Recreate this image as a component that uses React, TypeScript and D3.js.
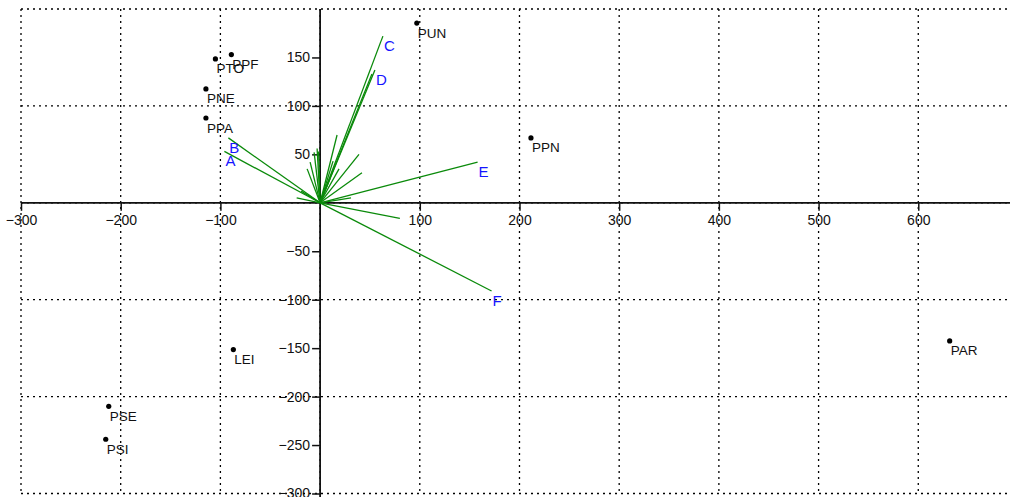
import React, { useEffect, useRef } from 'react';
import * as d3 from 'd3';

// sample scores (black dots)
const siteNames = ['PUN', 'PPF', 'PTO', 'PNE', 'PPA', 'PPN', 'PAR', 'LEI', 'PSE', 'PSI'];
const siteX = [97, -89, -105, -114.5, -114.5, 211.5, 631.5, -87, -212, -215];
const siteY = [185.5, 153, 148.5, 117.5, 87.5, 67, -142.5, -151.5, -210, -244];

// variable loadings (green arrows), '' = no label
const varNames = ['A', 'B', 'C', 'D', '', 'E', 'F', '', '', '', '', '', '', '', '', '', '', '', '', '', '', ''];
const varX = [-96, -92, 63, 55, 52, 158, 172, -23.5, -19, -13, -10, -6, -3, -1.5, 17, 19, 13, 39, 42, 31, 80, 10];
const varY = [53, 67, 172, 137, 133, 42, -91, 5, 12, 35, 42, 52, 56, 53, 70, 35, 43, 50, 31, 5, -16, 25];

const xTicks = [-300, -200, -100, 100, 200, 300, 400, 500, 600];
const yTicks = [150, 100, 50, -50, -100, -150, -200, -250, -300];
const xGrid = [-300, -200, -100, 0, 100, 200, 300, 400, 500, 600];
const yGrid = [200, 100, 0, -100, -200, -300];

const W = 1010, H = 497;

export default function App() {
  const ref = useRef<SVGSVGElement>(null);

  useEffect(() => {
    const svg = d3.select(ref.current);
    svg.selectAll('*').remove();

    const x = d3.scaleLinear().domain([-300, 692]).range([21, 1010]);
    const y = d3.scaleLinear().domain([-300, 200]).range([493.5, 9]);

    // ---- grid ----
    const grid = svg.append('g').attr('stroke', '#000').attr('stroke-width', 1.3).attr('stroke-dasharray', '2,4');
    grid.selectAll('line.v').data(xGrid).enter().append('line')
      .attr('x1', d => x(d)).attr('x2', d => x(d))
      .attr('y1', y(200)).attr('y2', y(-300));
    grid.selectAll('line.h').data(yGrid).enter().append('line')
      .attr('x1', x(-300)).attr('x2', W)
      .attr('y1', d => y(d)).attr('y2', d => y(d));

    // ---- axes through origin ----
    const axes = svg.append('g').attr('stroke', '#111').attr('stroke-width', 1.8);
    axes.append('line').attr('x1', x(-300)).attr('x2', W).attr('y1', y(0)).attr('y2', y(0));
    axes.append('line').attr('x1', x(0)).attr('x2', x(0)).attr('y1', y(200)).attr('y2', H);

    const xAxis = d3.axisBottom(x).tickValues(xTicks).tickSize(8).tickPadding(4);
    const gx = svg.append('g').attr('transform', 'translate(0,' + y(0) + ')').call(xAxis);
    const yAxis = d3.axisLeft(y).tickValues(yTicks).tickSize(8).tickPadding(2);
    const gy = svg.append('g').attr('transform', 'translate(' + x(0) + ',0)').call(yAxis);
    [gx, gy].forEach(g => {
      g.select('.domain').remove();
      g.selectAll('line').attr('stroke', '#111').attr('stroke-width', 1.5);
      g.selectAll('text').attr('font-size', 14).attr('font-family', 'Liberation Sans, Arial, sans-serif').attr('fill', '#111');
    });

    // ---- arrows ----
    const vars = varNames.map((n, i) => ({ n, vx: varX[i], vy: varY[i] }));
    svg.append('g').selectAll('line').data(vars).enter().append('line')
      .attr('x1', x(0)).attr('y1', y(0))
      .attr('x2', d => x(d.vx)).attr('y2', d => y(d.vy))
      .attr('stroke', '#0a8a0a').attr('stroke-width', 1.3);
    svg.append('g').selectAll('text').data(vars.filter(d => d.n)).enter().append('text')
      .attr('x', d => x(d.vx) + 1).attr('y', d => y(d.vy) + 15)
      .attr('font-size', 15).attr('font-family', 'Liberation Sans, Arial, sans-serif')
      .attr('fill', '#1515ff').text(d => d.n);

    // ---- sites ----
    const sites = siteNames.map((n, i) => ({ n, sx: siteX[i], sy: siteY[i] }));
    const sg = svg.append('g');
    sg.selectAll('circle').data(sites).enter().append('circle')
      .attr('cx', d => x(d.sx)).attr('cy', d => y(d.sy)).attr('r', 2.6).attr('fill', '#000');
    sg.selectAll('text').data(sites).enter().append('text')
      .attr('x', d => x(d.sx) + 1).attr('y', d => y(d.sy) + 14.5)
      .attr('font-size', 13.5).attr('font-family', 'Liberation Sans, Arial, sans-serif')
      .attr('fill', '#111').text(d => d.n);
  }, []);

  return (
    <svg ref={ref} width={W} height={H}
      style={{ position: 'absolute', left: 0, top: 0, background: '#fff' }} />
  );
}
